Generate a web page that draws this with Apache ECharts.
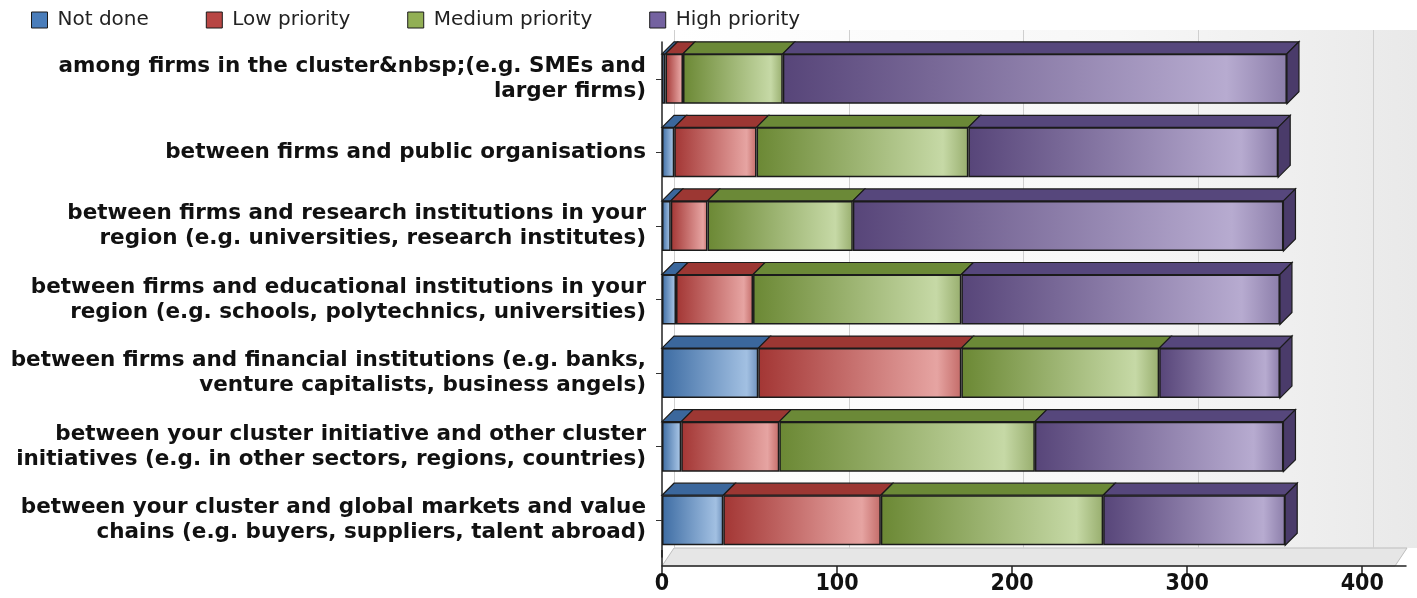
<!DOCTYPE html>
<html lang="en">
<head>
  <meta charset="UTF-8">
  <title>Cluster cooperation priorities</title>
  <script src="https://cdn.jsdelivr.net/npm/echarts@6/dist/echarts.min.js"></script>
</head>
<body style="margin:0;background:#fff">
<div id="main" style="width:1417px;height:598px"></div>
<script>
  // categories, top to bottom
  var categories = [
    'among firms in the cluster&nbsp;(e.g. SMEs and\nlarger firms)',
    'between firms and public organisations',
    'between firms and research institutions in your\nregion (e.g. universities, research institutes)',
    'between firms and educational institutions in your\nregion (e.g. schools, polytechnics, universities)',
    'between firms and financial institutions (e.g. banks,\nventure capitalists, business angels)',
    'between your cluster initiative and other cluster\ninitiatives (e.g. in other sectors, regions, countries)',
    'between your cluster and global markets and value\nchains (e.g. buyers, suppliers, talent abroad)'
  ];
  var seriesNames = ['Not done', 'Low priority', 'Medium priority', 'High priority'];
  var notDone        = [2, 7, 5, 8, 55, 11, 35];
  var lowPriority    = [10, 47, 21, 44, 116, 56, 90];
  var mediumPriority = [57, 121, 83, 119, 113, 146, 127];
  var highPriority   = [288, 177, 246, 182, 69, 142, 104];
  var stacks = [notDone, lowPriority, mediumPriority, highPriority];

  var xMax = 425;

  // dark / light / rim per series
  var faceColors = [
    ['#3d6ca3', '#a2c0e2', '#6f92bd'],
    ['#a33634', '#e6a4a2', '#c46c69'],
    ['#6b8834', '#c6d9a6', '#98ae6e'],
    ['#574579', '#b7abd0', '#8c7eaa']
  ];
  var topColors = ['#3b679c', '#9c3733', '#6b8937', '#56477c'];
  var legendColors = ['#4a7dba', '#b84644', '#92af55', '#7462a0'];
  var sideColor = '#4a3b6a';

  function grad(c) {
    return new echarts.graphic.LinearGradient(0, 0, 1, 0, [
      {offset: 0, color: c[0]},
      {offset: 0.88, color: c[1]},
      {offset: 1, color: c[2]}
    ]);
  }

  var chart = echarts.init(document.getElementById('main'));

  var depthX = 12, depthY = 12, barW = 50;

  function renderDepth(params, api) {
    var i = api.value(1);
    var yc = api.coord([0, i])[1];
    var top = yc - barW / 2, bot = yc + barW / 2;
    var acc = 0;
    var children = [];
    for (var k = 0; k < stacks.length; k++) {
      var x0 = api.coord([acc, i])[0];
      acc += stacks[k][i];
      var x1 = api.coord([acc, i])[0];
      children.push({
        type: 'polygon',
        shape: {points: [[x0, top], [x1, top], [x1 + depthX, top - depthY], [x0 + depthX, top - depthY]]},
        style: {fill: topColors[k], stroke: '#1b1b1b', lineWidth: 1.2}
      });
    }
    var xe = api.coord([acc, i])[0];
    children.push({
      type: 'polygon',
      shape: {points: [[xe, top], [xe + depthX, top - depthY], [xe + depthX, bot - depthY], [xe, bot]]},
      style: {fill: sideColor, stroke: '#1b1b1b', lineWidth: 1.2}
    });
    return {type: 'group', children: children};
  }

  var barSeries = seriesNames.map(function (name, k) {
    return {
      name: name,
      type: 'bar',
      stack: 'total',
      xAxisIndex: 0,
      yAxisIndex: 0,
      barWidth: barW,
      data: stacks[k],
      itemStyle: {color: grad(faceColors[k]), borderColor: '#1b1b1b', borderWidth: 1.5},
      emphasis: {disabled: true}
    };
  });

  chart.setOption({
    backgroundColor: '#fff',
    animation: false,
    legend: {
      left: 26,
      top: 5,
      itemWidth: 16,
      itemHeight: 16,
      itemGap: 57,
      icon: 'rect',
      textStyle: {fontFamily: 'DejaVu Sans, sans-serif', fontSize: 20, color: '#222', padding: [0, 0, 0, 5]},
      data: seriesNames.map(function (n, k) {
        return {name: n, itemStyle: {color: legendColors[k], borderColor: '#1b1b1b', borderWidth: 1}};
      })
    },
    graphic: [{
      type: 'polygon',
      z: -1,
      shape: {points: [[662, 566], [1395, 566], [1407, 548], [674, 548]]},
      style: {fill: '#e6e6e6', stroke: '#bdbdbd', lineWidth: 1}
    }, {
      type: 'line',
      z: 1,
      shape: {x1: 662, y1: 550, x2: 662, y2: 566},
      style: {stroke: '#222', lineWidth: 1.5}
    }],
    grid: [
      {left: 662, right: 11, top: 42, bottom: 41},
      {left: 674, right: -1, top: 30, bottom: 50, show: true, borderWidth: 0, z: -2,
        backgroundColor: new echarts.graphic.LinearGradient(0, 0, 1, 0, [
          {offset: 0, color: '#ffffff'}, {offset: 0.6, color: '#f7f7f7'}, {offset: 1, color: '#e9e9e9'}
        ])}
    ],
    xAxis: [{
      type: 'value',
      gridIndex: 0,
      min: 0,
      max: xMax,
      interval: 100,
      offset: 9,
      axisLine: {show: true, lineStyle: {color: '#222', width: 1.5}},
      axisTick: {show: true, length: 8, lineStyle: {color: '#222', width: 1.5}},
      axisLabel: {
        margin: 7, showMaxLabel: false,
        fontFamily: 'DejaVu Sans Condensed, sans-serif',
        fontWeight: 'bold', fontSize: 23, color: '#111'
      },
      splitLine: {show: false}
    }, {
      type: 'value',
      gridIndex: 1,
      min: 0,
      max: xMax,
      interval: 100,
      axisLine: {show: false},
      axisTick: {show: false},
      axisLabel: {show: false},
      splitLine: {show: true, lineStyle: {color: '#cfcfcf', width: 1}}
    }],
    yAxis: [{
      type: 'category',
      gridIndex: 0,
      inverse: true,
      data: categories,
      axisLine: {show: true, lineStyle: {color: '#222', width: 1.5}},
      axisTick: {show: true, alignWithLabel: true, length: 6, lineStyle: {color: '#333'}},
      axisLabel: {
        margin: 16,
        fontFamily: 'DejaVu Sans, sans-serif',
        fontWeight: 'bold', fontSize: 21.5, lineHeight: 25, color: '#111', align: 'right'
      }
    }, {
      type: 'category',
      gridIndex: 1,
      inverse: true,
      data: categories,
      show: false
    }],
    series: barSeries.concat([{
      type: 'custom',
      name: 'depth',
      xAxisIndex: 0,
      yAxisIndex: 0,
      renderItem: renderDepth,
      encode: {x: 0, y: 1},
      data: categories.map(function (c, i) { return [0, i]; }),
      z: 3,
      silent: true
    }])
  });
</script>
</body>
</html>
